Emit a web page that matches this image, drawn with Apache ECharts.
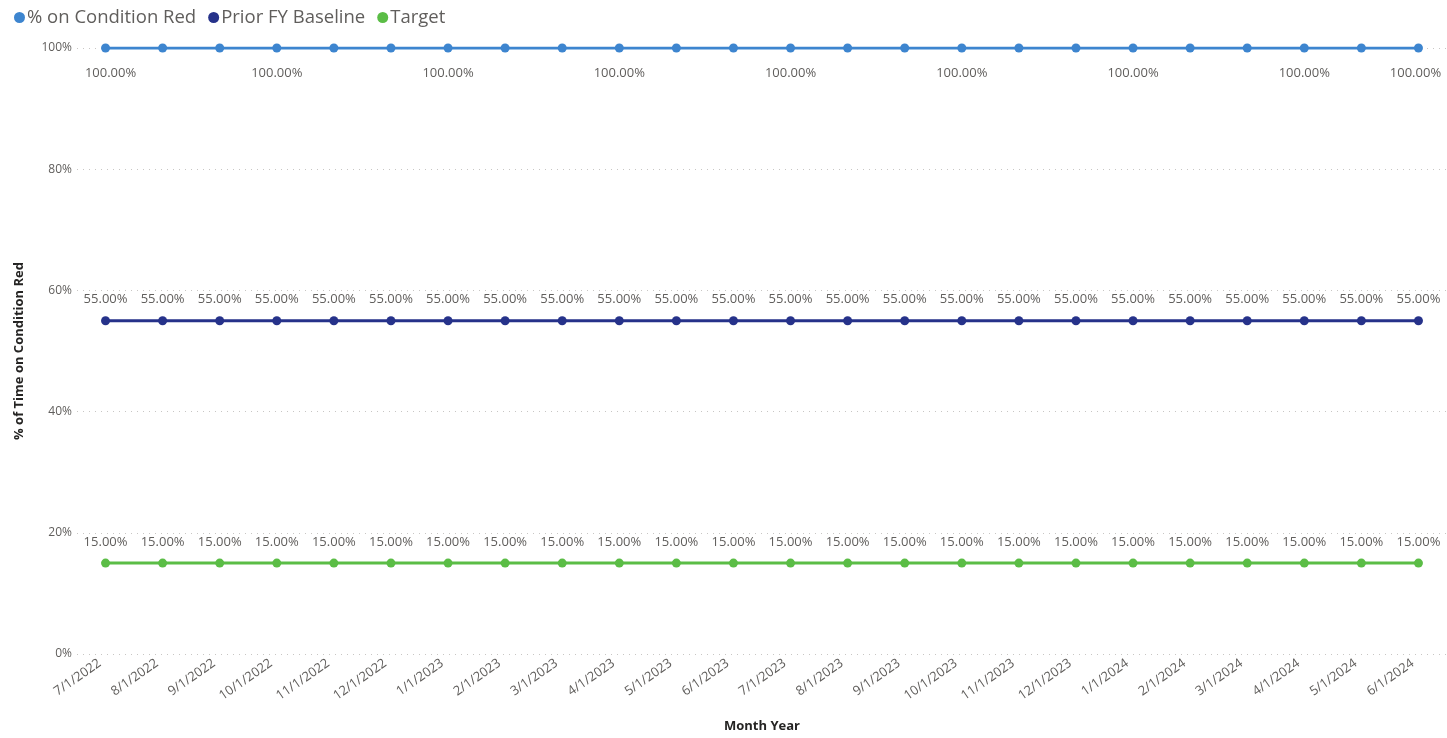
<!DOCTYPE html>
<html>
<head>
<meta charset="utf-8">
<script src="https://cdn.jsdelivr.net/npm/echarts@6/dist/echarts.min.js"></script>
<style>
  html, body { margin: 0; padding: 0; background: #fff; }
  #chart { width: 1447px; height: 738px; }
</style>
</head>
<body>
<div id="chart"></div>
<script>
// Monthly reporting periods
const months = [
  '7/1/2022', '8/1/2022', '9/1/2022', '10/1/2022', '11/1/2022', '12/1/2022',
  '1/1/2023', '2/1/2023', '3/1/2023', '4/1/2023', '5/1/2023', '6/1/2023',
  '7/1/2023', '8/1/2023', '9/1/2023', '10/1/2023', '11/1/2023', '12/1/2023',
  '1/1/2024', '2/1/2024', '3/1/2024', '4/1/2024', '5/1/2024', '6/1/2024'
];

// Percent values per month
const conditionRed = [100, 100, 100, 100, 100, 100, 100, 100, 100, 100, 100, 100,
                      100, 100, 100, 100, 100, 100, 100, 100, 100, 100, 100, 100];
const priorBaseline = [55, 55, 55, 55, 55, 55, 55, 55, 55, 55, 55, 55,
                       55, 55, 55, 55, 55, 55, 55, 55, 55, 55, 55, 55];
const target = [15, 15, 15, 15, 15, 15, 15, 15, 15, 15, 15, 15,
                15, 15, 15, 15, 15, 15, 15, 15, 15, 15, 15, 15];

// Y axis ticks
const yTicks = [0, 20, 40, 60, 80, 100];

// Month indices whose condition-red value gets a label
const redLabelIdx = [0, 3, 6, 9, 12, 15, 18, 21, 23];

const FONT = '"Open Sans", "Noto Sans", sans-serif';
const TXT = '#605e5c';
const C_RED = '#3d85cf';
const C_BASE = '#26328a';
const C_TGT = '#5bbd46';

const pct = v => v.toFixed(2) + '%';

const redData = conditionRed.map((v, i) => {
  const item = { value: v };
  if (redLabelIdx.includes(i)) {
    item.label = { show: true };
    if (i === conditionRed.length - 1) item.label.offset = [-3, 0];
    if (i === 0) item.label.offset = [5, 0];
  }
  return item;
});

const chart = echarts.init(document.getElementById('chart'));
chart.setOption({
  animation: false,
  textStyle: { fontFamily: FONT },
  legend: {
    left: 9,
    top: 3,
    icon: 'circle',
    itemWidth: 11,
    itemHeight: 11,
    itemGap: 12,
    textStyle: { fontSize: 18.5, color: TXT, fontFamily: FONT, padding: [0, 0, 0, -3] },
    data: ['% on Condition Red', 'Prior FY Baseline', 'Target']
  },
  grid: { left: 77, right: -4, top: 48, bottom: 81, containLabel: false },
  xAxis: {
    type: 'category',
    data: months,
    boundaryGap: true,
    name: 'Month Year',
    nameLocation: 'middle',
    nameGap: 66,
    nameTextStyle: { fontSize: 13, fontWeight: 'bold', color: '#252423', fontFamily: FONT },
    axisLine: { show: false },
    axisTick: { show: false },
    axisLabel: { rotate: 35, fontSize: 13, color: TXT, margin: 4, interval: 0, fontFamily: FONT,
                 padding: [0, 7, 0, 0] }
  },
  yAxis: {
    type: 'value',
    min: yTicks[0],
    max: yTicks[yTicks.length - 1],
    interval: 20,
    name: '% of Time on Condition Red',
    nameLocation: 'middle',
    nameGap: 51,
    nameTextStyle: { fontSize: 13, fontWeight: 'bold', color: '#252423', fontFamily: FONT },
    axisLabel: { formatter: v => v + '%', fontSize: 12, color: TXT, margin: 5, fontFamily: FONT },
    axisLine: { show: false },
    axisTick: { show: false },
    splitLine: { lineStyle: { type: [1, 5], color: '#c8c6c4', width: 1 } }
  },
  series: [
    {
      name: '% on Condition Red',
      type: 'line',
      data: redData,
      color: C_RED,
      symbol: 'circle',
      symbolSize: 9,
      lineStyle: { width: 3 },
      label: { show: false, position: 'bottom', distance: 14, formatter: p => pct(p.value),
               fontSize: 13, color: TXT, fontFamily: FONT },
      z: 3
    },
    {
      name: 'Prior FY Baseline',
      type: 'line',
      data: priorBaseline,
      color: C_BASE,
      symbol: 'circle',
      symbolSize: 9,
      lineStyle: { width: 3 },
      label: { show: true, position: 'top', distance: 10, formatter: p => pct(p.value),
               fontSize: 13, color: TXT, fontFamily: FONT }
    },
    {
      name: 'Target',
      type: 'line',
      data: target,
      color: C_TGT,
      symbol: 'circle',
      symbolSize: 9,
      lineStyle: { width: 3 },
      label: { show: true, position: 'top', distance: 10, formatter: p => pct(p.value),
               fontSize: 13, color: TXT, fontFamily: FONT }
    }
  ]
});
</script>
</body>
</html>
